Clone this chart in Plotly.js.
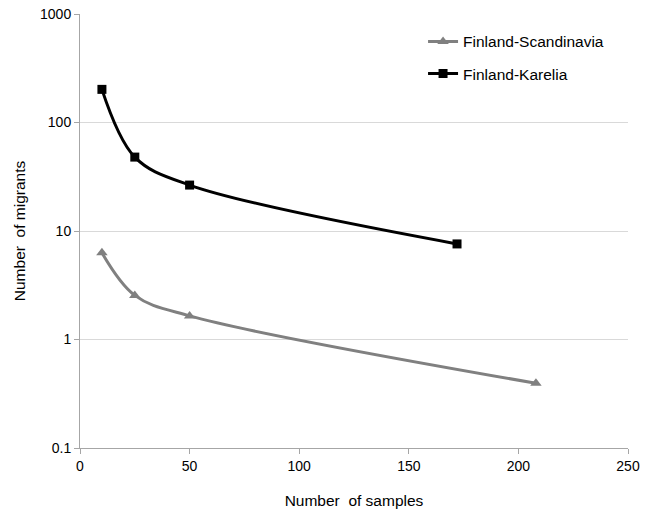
<!DOCTYPE html>
<html>
<head>
<meta charset="utf-8">
<script src="https://cdn.plot.ly/plotly-3.0.1.min.js"></script>
<style>html,body{margin:0;padding:0;background:#fff;}#chart{width:649px;height:510px;}</style>
</head>
<body>
<div id="chart"></div>
<script>
const scandSamples = [10, 25, 50, 208];
const scandMigrants = [6.3, 2.55, 1.65, 0.395];
const kareliaSamples = [10, 25, 50, 172];
const kareliaMigrants = [202, 48, 26.5, 7.6];
const yTickVals = [0.1, 1, 10, 100, 1000];
const yTickText = ['0.1', '1', '10', '100', '1000'];
const xTickVals = [0, 50, 100, 150, 200, 250];

const traces = [
  {
    x: scandSamples, y: scandMigrants, name: 'Finland-Scandinavia',
    type: 'scatter', mode: 'lines+markers', legendgroup: 'a',
    line: {color: '#808080', width: 3, shape: 'spline', smoothing: 1},
    marker: {symbol: 'triangle-up', size: 10, color: '#808080'}
  },
  {
    x: kareliaSamples, y: kareliaMigrants, name: 'Finland-Karelia',
    type: 'scatter', mode: 'lines+markers', legendgroup: 'b',
    line: {color: '#000000', width: 3, shape: 'spline', smoothing: 1},
    marker: {symbol: 'square', size: 9, color: '#000000'}
  }
];

const layout = {
  width: 649, height: 510,
  margin: {l: 80, r: 21, t: 14, b: 62},
  paper_bgcolor: '#ffffff', plot_bgcolor: '#ffffff',
  font: {family: 'Liberation Sans, Arial, sans-serif', size: 14, color: '#000'},
  showlegend: true,
  legend: {x: 0.626, y: 0.975, xanchor: 'left', yanchor: 'top',
    traceorder: 'grouped', tracegroupgap: 9,
    font: {size: 15.5, color: '#000'}, bgcolor: 'rgba(0,0,0,0)'},
  xaxis: {
    range: [0, 250], tickvals: xTickVals, showgrid: false, zeroline: false,
    showline: true, linecolor: '#a6a6a6', linewidth: 1,
    ticks: 'outside', ticklen: 5, tickcolor: '#a6a6a6',
    tickfont: {size: 14},
    title: {text: 'Number  of samples', font: {size: 15.5}, standoff: 22}
  },
  yaxis: {
    type: 'log', range: [-1, 3], tickvals: yTickVals, ticktext: yTickText,
    showgrid: true, gridcolor: '#d9d9d9', gridwidth: 1, zeroline: false,
    showline: true, linecolor: '#a6a6a6', linewidth: 1,
    ticks: 'outside', ticklen: 5, tickcolor: '#a6a6a6',
    tickfont: {size: 14},
    title: {text: 'Number  of migrants', font: {size: 15.5}, standoff: 10}
  }
};

Plotly.newPlot('chart', traces, layout, {displayModeBar: false, staticPlot: true});
</script>
</body>
</html>
